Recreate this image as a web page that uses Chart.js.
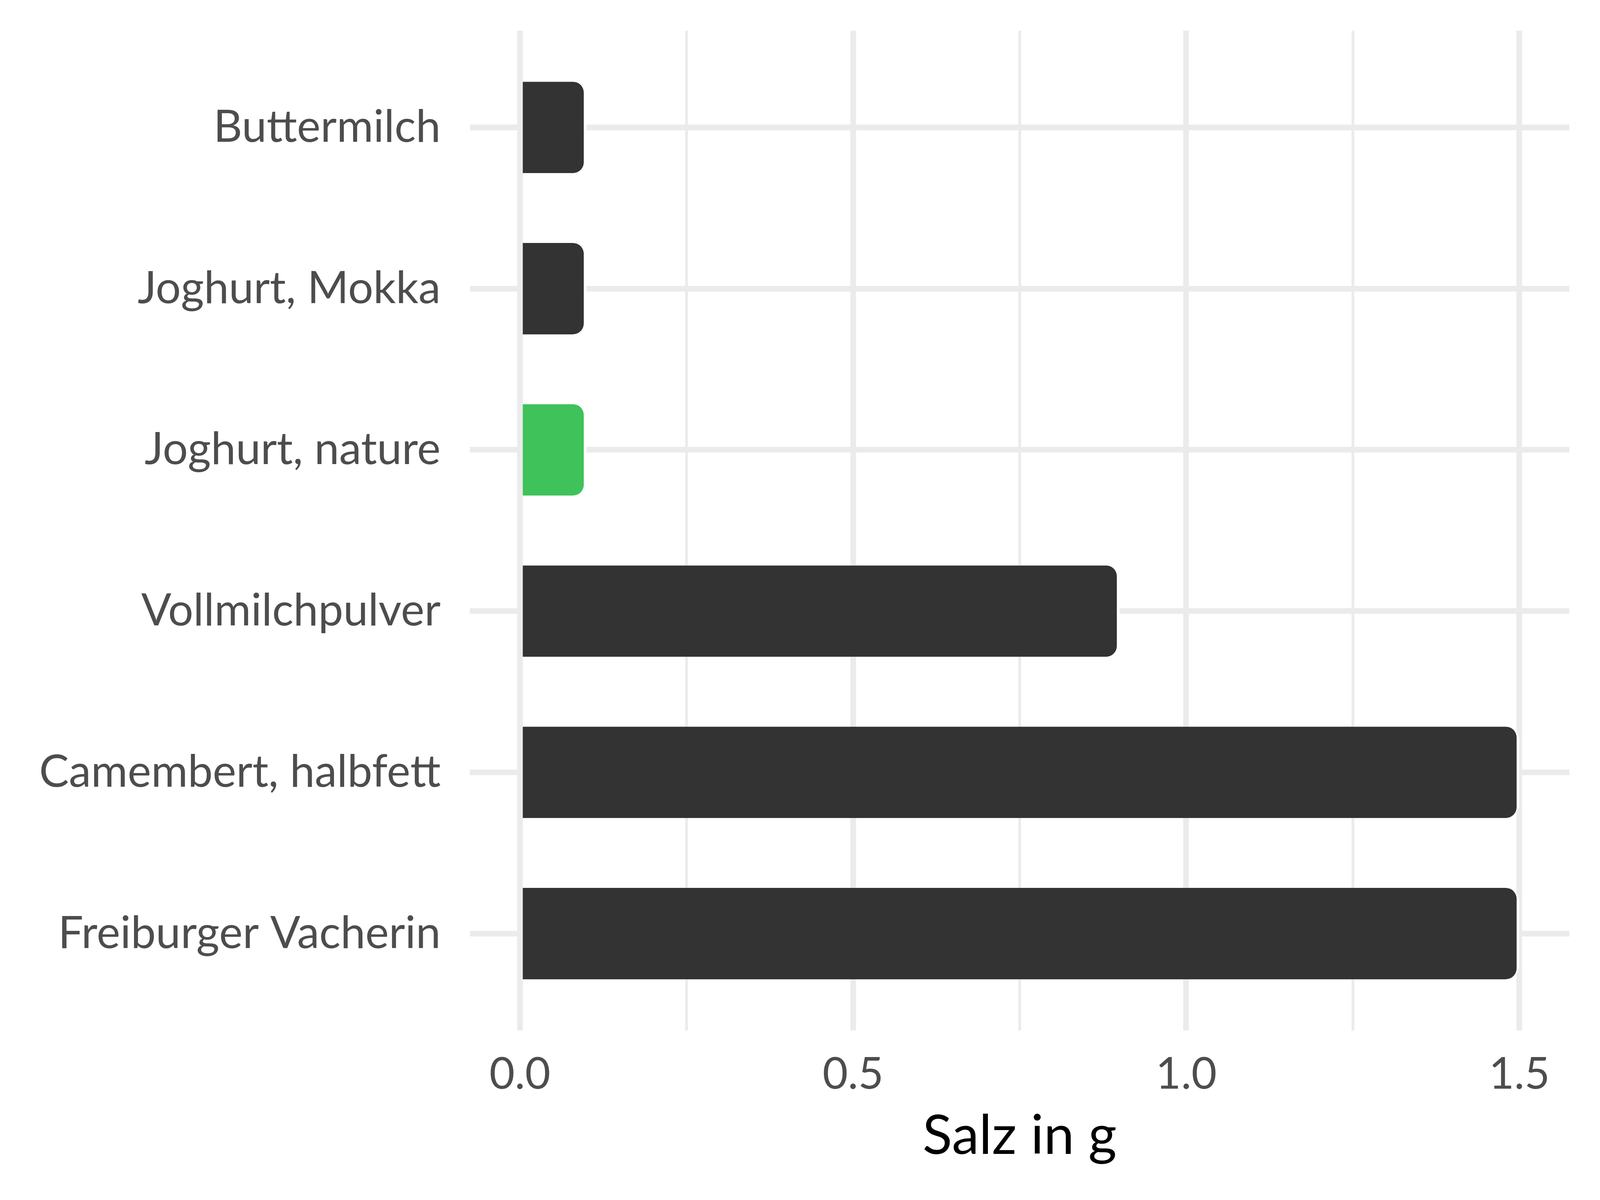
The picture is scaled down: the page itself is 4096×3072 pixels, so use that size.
<!DOCTYPE html>
<html>
<head>
<meta charset="utf-8">
<script src="https://cdn.jsdelivr.net/npm/chart.js@4/dist/chart.umd.min.js"></script>
<style>
  html, body { margin: 0; padding: 0; background: #fff; }
  #wrap { width: 4096px; height: 3072px; }
</style>
</head>
<body>
<div id="wrap"><canvas id="chart"></canvas></div>
<script>
// data
var categories = ['Buttermilch', 'Joghurt, Mokka', 'Joghurt, nature', 'Vollmilchpulver', 'Camembert, halbfett', 'Freiburger Vacherin'];
var salt = [0.1, 0.1, 0.1, 0.9, 1.5, 1.5];
var barColors = ['#333333', '#333333', '#3EC259', '#333333', '#333333', '#333333'];
var xTicks = [0, 0.25, 0.5, 0.75, 1, 1.25, 1.5];
var xTitle = 'Salz in g';

var points = salt.map(function (v, i) {
    return {x: v, y: i + 1};
});

var isMajor = function (v) {
    return Math.abs(v * 2 - Math.round(v * 2)) < 1e-9;
};

Chart.defaults.font.family = 'Lato, "Open Sans", sans-serif';

new Chart(document.getElementById('chart'), {
    type: 'bar',
    data: {
        datasets: [{
            data: points,
            backgroundColor: barColors,
            borderColor: '#ffffff',
            borderWidth: {top: 0, bottom: 0, left: 0, right: 7},
            borderSkipped: 'start',
            borderRadius: 35,
            categoryPercentage: 1,
            barPercentage: 0.567
        }]
    },
    options: {
        indexAxis: 'y',
        responsive: true,
        maintainAspectRatio: false,
        devicePixelRatio: 1,
        animation: false,
        layout: {padding: {top: 78.5, right: 78.5, bottom: 0, left: 0}},
        plugins: {
            legend: {display: false},
            tooltip: {enabled: false}
        },
        scales: {
            x: {
                type: 'linear',
                min: -0.075,
                max: 1.575,
                afterBuildTicks: function (scale) {
                    scale.ticks = xTicks.map(function (v) { return {value: v}; });
                },
                afterFit: function (scale) {
                    scale.height = 434.4;
                },
                border: {display: false},
                grid: {
                    color: '#EBEBEB',
                    drawTicks: false,
                    lineWidth: function (ctx) {
                        return isMajor(ctx.tick.value) ? 14.5 : 7;
                    }
                },
                ticks: {
                    autoSkip: false,
                    maxRotation: 0,
                    padding: 46,
                    color: '#4D4D4D',
                    font: {size: 112},
                    callback: function (v) {
                        return isMajor(v) ? v.toFixed(1) : '';
                    }
                },
                title: {
                    display: true,
                    text: xTitle,
                    color: '#000000',
                    font: {size: 140},
                    padding: {top: 0, bottom: 79}
                }
            },
            y: {
                type: 'linear',
                reverse: true,
                offset: false,
                min: 0.4,
                max: 6.6,
                afterBuildTicks: function (scale) {
                    scale.ticks = categories.map(function (c, i) { return {value: i + 1}; });
                },
                afterFit: function (scale) {
                    scale.width = 1203;
                    // labels sit well inside the panel, no overhang needed
                    scale.paddingTop = 0;
                    scale.paddingBottom = 0;
                },
                border: {display: false},
                grid: {
                    offset: false,
                    color: '#EBEBEB',
                    drawTicks: false,
                    lineWidth: 14.5
                },
                ticks: {
                    autoSkip: false,
                    padding: 75,
                    color: '#4D4D4D',
                    font: {size: 114},
                    callback: function (v) {
                        return categories[v - 1];
                    }
                }
            }
        }
    }
});
</script>
</body>
</html>
